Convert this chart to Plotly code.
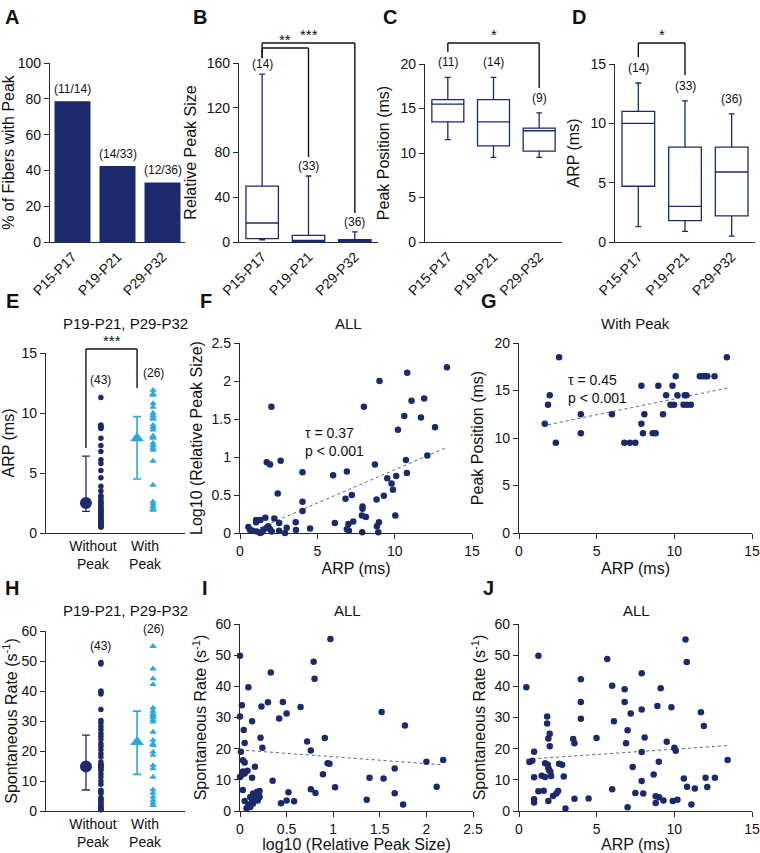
import plotly.graph_objects as go

W, H = 760, 853
NAVY = "#1c2a6b"
CYAN = "#2aa8de"
AX = "#2a2a2a"
FONT = "Arial, Liberation Sans, sans-serif"

# ---------------- data ----------------
ages = ["P15-P17", "P19-P21", "P29-P32"]

# A
pct_with_peak = [78.6, 42.4, 33.3]
pct_labels = ["(11/14)", "(14/33)", "(12/36)"]

# B  relative peak size (box stats)
b_min = [2, 0, 0]
b_q1 = [3, 0.5, 0.4]
b_med = [17, 1.2, 1.0]
b_q3 = [50, 6, 2]
b_max = [150, 59, 9]
b_n = ["(14)", "(33)", "(36)"]

# C  peak position
c_min = [11.5, 9.5, 9.5]
c_q1 = [13.5, 10.8, 10.2]
c_med = [15.5, 13.5, 12.5]
c_q3 = [16.0, 16.0, 12.8]
c_max = [18.5, 18.5, 14.5]
c_n = ["(11)", "(14)", "(9)"]

# D  ARP
d_min = [1.3, 0.9, 0.5]
d_q1 = [4.7, 1.8, 2.2]
d_med = [10.0, 3.0, 5.9]
d_q3 = [11.0, 8.0, 8.0]
d_max = [13.4, 11.9, 10.8]
d_n = ["(14)", "(33)", "(36)"]

# E  ARP without / with peak
e_without = [11.3, 9.0, 8.9, 8.8, 8.7, 7.9, 7.3, 6.8, 6.1, 5.8, 5.2, 4.6, 3.9, 3.5,
             3.1, 3.0, 2.8, 2.6, 2.5, 2.4, 2.2, 2.1, 2.0, 1.9, 1.8, 1.8, 1.7, 1.6,
             1.5, 1.4, 1.3, 1.2, 1.1, 1.0, 1.0, 0.9, 0.8, 0.8, 0.7, 0.6, 0.6, 0.5, 0.5]
e_with = [11.9, 11.6, 11.5, 10.8, 10.5, 10.0, 9.8, 9.6, 9.5, 9.0, 8.8, 8.6, 8.1,
          8.0, 7.9, 7.5, 7.3, 7.1, 6.9, 6.0, 4.0, 2.6, 2.4, 2.2, 2.0, 1.9]
e_without_stat = [2.5, 1.8, 6.4]   # median, low, high
e_with_stat = [7.9, 4.5, 9.7]

# F  ARP vs log10 relative peak size
f_arp = [13.38, 10.81, 9.02, 11.91, 11.09, 2.03, 8.01, 10.62, 11.70, 12.61, 10.21,
         12.11, 10.73, 2.63, 1.73, 1.94, 8.72, 4.04, 10.79, 6.91, 6.02, 10.10, 9.52,
         9.80, 9.89, 2.44, 7.23, 9.30, 6.82, 8.83, 4.04, 4.04, 7.92, 7.92, 7.88, 8.14,
         10.04, 2.22, 1.64, 1.04, 1.32, 1.04, 2.53, 3.60, 6.13, 7.01, 7.32, 8.98, 8.85,
         0.54, 3.02, 4.53, 3.62, 2.53, 0.82, 1.08, 1.40, 1.51, 1.73, 1.83, 1.94, 2.05,
         2.91, 6.91, 7.04, 7.90, 8.94, 1.30, 0.65]
f_log = [2.18, 2.11, 2.00, 1.77, 1.74, 1.66, 1.66, 1.54, 1.52, 1.39, 1.36,
         1.02, 0.96, 0.95, 0.93, 0.90, 0.90, 0.80, 0.79, 0.81, 0.76, 0.75, 0.72,
         0.65, 0.57, 0.52, 0.50, 0.49, 0.45, 0.44, 0.41, 0.29, 0.35, 0.32, 0.23, 0.21,
         0.23, 0.19, 0.20, 0.17, 0.17, 0.14, 0.13, 0.14, 0.13, 0.12, 0.15, 0.14, 0.09,
         0.08, 0.07, 0.06, 0.04, 0.03, 0.03, 0.02, 0.01, 0.04, 0.07, 0.09, 0.05, 0.02,
         0.00, 0.05, 0.03, 0.01, 0.01, 0.00, 0.04]
f_trend_x = [1.3, 13.4]
f_trend_y = [0.07, 1.13]

# G  ARP vs peak position (with peak)
g_arp = [13.38, 2.58, 1.98, 1.87, 1.66, 2.37, 3.98, 3.98, 5.98, 6.78, 7.14, 7.49,
         7.88, 7.88, 7.98, 8.07, 8.61, 8.80, 8.97, 9.27, 9.47, 9.75, 9.88, 9.98,
         10.09, 10.20, 10.59, 10.67, 10.78, 10.82, 11.06, 11.64, 11.81, 11.99, 12.12, 12.59]
g_pos = [18.5, 18.5, 14.5, 13.5, 11.5, 9.5, 12.5, 10.5, 12.5, 9.5, 9.5, 9.5,
         15.5, 11.5, 10.5, 12.5, 10.5, 10.5, 15.5, 12.5, 14.5, 13.5, 15.5, 13.5,
         16.5, 14.5, 13.5, 14.5, 14.5, 13.5, 13.5, 16.5, 16.5, 16.5, 16.5, 16.5]
g_trend_x = [1.87, 13.43]
g_trend_y = [11.4, 15.26]

# H  spontaneous rate without / with peak
h_without = [49.5, 49.0, 40.0, 39.5, 39.0, 33.8, 30.2, 29.3, 28.2, 27.1, 25.8, 24.9,
             23.8, 22.4, 21.6, 20.4, 19.1, 18.0, 16.3, 15.6, 15.2, 15.0, 14.7, 14.0,
             13.6, 12.4, 11.3, 10.0, 8.9, 6.9, 6.5, 5.8, 4.4, 4.0, 3.6, 3.0, 2.4, 2.0,
             1.3, 1.0, 0.8, 0.5, 0.4]
h_with = [54.9, 47.4, 44.1, 42.2, 34.4, 33.3, 32.4, 31.8, 31.3, 30.5, 29.7, 26.3,
          23.6, 22.4, 21.9, 19.7, 18.6, 15.2, 14.1, 11.3, 7.1, 6.0, 4.7, 3.6, 2.7, 1.9]
h_without_stat = [14.8, 7.0, 25.3]
h_with_stat = [23.0, 12.2, 33.3]

# I  log10 relative peak size vs spontaneous rate
i_log = [0.97, 0.00, 0.79, 0.80, 0.33, 0.09, 0.02, 0.00, 0.30, 0.46, 0.23, 0.65,
         0.50, 0.42, 0.13, 1.52, 1.77, 0.04, 0.05, 0.22, 0.24, 0.72, 0.76, 0.91,
         0.01, 0.03, 0.05, 0.16, 0.08, 0.03, 0.02, 0.05, 0.00, 0.13, 0.94, 0.96,
         0.89, 2.00, 2.18, 1.66, 1.39, 1.54, 0.35, 1.02, 2.11, 0.03, 0.76, 0.81,
         0.52, 1.66, 1.36, 1.75, 0.44, 0.50, 0.58, 0.05, 0.14, 0.16, 0.18, 0.20,
         0.21, 0.11, 0.13, 0.09, 0.07, 0.11, 0.14, 0.17, 0.19, 0.21]
i_rate = [55.2, 49.8, 47.9, 42.4, 44.4, 39.7, 33.9, 30.3, 34.9, 35.0, 33.5, 33.4,
          31.3, 29.7, 28.8, 31.8, 27.4, 26.0, 21.8, 23.5, 20.3, 22.3, 19.4, 23.4,
          19.0, 16.3, 15.6, 14.2, 12.9, 12.7, 11.6, 12.0, 10.9, 10.7, 15.3, 15.2,
          11.8, 15.8, 16.4, 13.6, 10.7, 10.4, 9.7, 7.6, 7.8, 6.7, 7.0, 5.8,
          6.0, 5.7, 3.6, 2.1, 2.5, 3.4, 3.1, 3.2, 5.6, 4.7, 6.1, 5.0,
          6.4, 4.5, 3.4, 2.1, 0.9, 1.3, 2.4, 4.0, 3.4, 4.5]
i_trend_x = [0.0, 2.18]
i_trend_y = [19.6, 14.8]

# J  ARP vs spontaneous rate
j_arp = [10.72, 10.80, 1.25, 5.68, 0.47, 3.98, 7.90, 6.00, 6.80, 9.12, 3.98, 6.80,
         8.91, 9.81, 7.90, 7.19, 11.71, 1.81, 3.98, 6.11, 1.81, 11.90, 6.99, 1.98,
         1.89, 3.49, 4.99, 8.09, 9.51, 3.57, 6.89, 1.98, 10.00, 10.09, 7.90, 0.97,
         0.86, 0.67, 13.43, 1.68, 2.58, 2.78, 1.85, 1.89, 7.32, 9.00, 1.94, 2.02,
         1.46, 1.68, 2.07, 0.97, 2.88, 8.67, 10.61, 12.01, 12.61, 7.90, 10.82, 11.32,
         12.12, 6.00, 1.25, 1.59, 2.41, 2.52, 2.19, 7.49, 8.00, 1.89, 0.97, 0.97,
         3.57, 4.48, 8.80, 9.02, 9.30, 8.80, 9.90, 10.20, 11.10, 2.99, 6.99]
j_rate = [55.0, 47.8, 49.8, 48.8, 39.7, 42.3, 44.2, 40.2, 39.1, 39.4, 35.0, 35.0,
          33.7, 33.3, 32.6, 31.3, 31.7, 30.3, 29.6, 28.8, 28.1, 27.3, 25.9, 24.8,
          23.3, 23.1, 23.4, 23.6, 22.2, 21.7, 21.7, 20.8, 20.3, 19.3, 18.9, 19.0,
          16.1, 15.7, 16.4, 15.3, 15.2, 14.8, 14.9, 13.8, 14.1, 15.8, 13.1, 12.6,
          11.3, 10.9, 11.2, 10.8, 11.1, 11.7, 10.4, 10.7, 10.7, 9.6, 7.8, 7.2,
          7.7, 7.0, 6.3, 6.5, 5.6, 6.4, 4.8, 5.8, 5.6, 3.2, 3.8, 2.7,
          3.9, 4.0, 4.7, 4.4, 3.4, 2.6, 3.2, 3.6, 2.1, 0.8, 1.2]
j_trend_x = [0.47, 13.43]
j_trend_y = [16.6, 21.0]

# group positions for E/H strip plots
grp_ticks = [1.35, 2.85]
grp_labels = ["Without<br>Peak", "With<br>Peak"]
pos_mean = [1.15, 2.62]
pos_dots = [1.58, 3.08]

# ---------------- layout helpers ----------------
def xd(a, b):
    return [a / W, b / W]

def yd(top, bottom):
    return [1 - bottom / H, 1 - top / H]

def ax(**kw):
    d = dict(showline=True, linecolor=AX, linewidth=1.4, ticks="outside",
             ticklen=5, tickwidth=1.4, tickcolor=AX, showgrid=False, zeroline=False,
             automargin=False,
             tickfont=dict(size=14, family=FONT, color="#111"),
             title_font=dict(size=16, family=FONT, color="#111"), fixedrange=True)
    d.update(kw)
    return d

panels = {
    1: (xd(50, 185), yd(63, 242)),
    2: (xd(239, 378), yd(63, 242)),
    3: (xd(425, 562), yd(64, 242)),
    4: (xd(615, 755), yd(64, 242)),
    5: (xd(46, 185), yd(353, 533)),
    6: (xd(240, 472), yd(343, 533)),
    7: (xd(519, 752), yd(343, 533)),
    8: (xd(46, 185), yd(631, 811)),
    9: (xd(240, 473), yd(624, 811)),
    10: (xd(519, 752), yd(624, 811)),
}

def xid(i):
    return "x" if i == 1 else f"x{i}"

def yid(i):
    return "y" if i == 1 else f"y{i}"

fig = go.Figure()

# A bars
fig.add_trace(go.Bar(x=ages, y=pct_with_peak, marker_color=NAVY, width=0.8,
                     xaxis="x", yaxis="y"))

# B, C, D boxes
for i, (mn, q1, md, q3, mx) in zip([2, 3, 4], [
        (b_min, b_q1, b_med, b_q3, b_max),
        (c_min, c_q1, c_med, c_q3, c_max),
        (d_min, d_q1, d_med, d_q3, d_max)]):
    fig.add_trace(go.Box(x=ages, q1=q1, median=md, q3=q3, lowerfence=mn, upperfence=mx,
                         fillcolor="white", line=dict(color=NAVY, width=1.3),
                         width=0.7, whiskerwidth=0.18, boxpoints=False,
                         xaxis=xid(i), yaxis=yid(i)))

# E and H strip panels
for i, wo, wi, ws, wis in [(5, e_without, e_with, e_without_stat, e_with_stat),
                           (8, h_without, h_with, h_without_stat, h_with_stat)]:
    fig.add_trace(go.Scatter(x=[pos_dots[0]] * len(wo), y=wo, mode="markers",
                             marker=dict(color=NAVY, size=5.5), cliponaxis=False,
                             xaxis=xid(i), yaxis=yid(i)))
    fig.add_trace(go.Scatter(x=[pos_dots[1]] * len(wi), y=wi, mode="markers",
                             marker=dict(color=CYAN, size=6.5, symbol="triangle-up"),
                             cliponaxis=False, xaxis=xid(i), yaxis=yid(i)))
    fig.add_trace(go.Scatter(x=[pos_mean[0]], y=[ws[0]], mode="markers",
                             marker=dict(color=NAVY, size=12),
                             error_y=dict(type="data", symmetric=False,
                                          array=[ws[2] - ws[0]], arrayminus=[ws[0] - ws[1]],
                                          color=NAVY, thickness=1.3, width=4),
                             xaxis=xid(i), yaxis=yid(i)))
    fig.add_trace(go.Scatter(x=[pos_mean[1]], y=[wis[0]], mode="markers",
                             marker=dict(color=CYAN, size=12, symbol="triangle-up"),
                             error_y=dict(type="data", symmetric=False,
                                          array=[wis[2] - wis[0]], arrayminus=[wis[0] - wis[1]],
                                          color=CYAN, thickness=1.6, width=4),
                             xaxis=xid(i), yaxis=yid(i)))

# scatter panels
for i, xs, ys, tx, ty in [(6, f_arp, f_log, f_trend_x, f_trend_y),
                          (7, g_arp, g_pos, g_trend_x, g_trend_y),
                          (9, i_log, i_rate, i_trend_x, i_trend_y),
                          (10, j_arp, j_rate, j_trend_x, j_trend_y)]:
    fig.add_trace(go.Scatter(x=tx, y=ty, mode="lines",
                             line=dict(color="#5a6288", width=1, dash="dot"),
                             xaxis=xid(i), yaxis=yid(i)))
    fig.add_trace(go.Scatter(x=xs, y=ys, mode="markers",
                             marker=dict(color=NAVY, size=6.5), cliponaxis=False,
                             xaxis=xid(i), yaxis=yid(i)))

# ---------------- axes ----------------
layout = dict(width=W, height=H, margin=dict(l=0, r=0, t=0, b=0, autoexpand=False),
              template="none",
              paper_bgcolor="white", plot_bgcolor="white", showlegend=False,
              font=dict(family=FONT, color="#111"))

cat_x = dict(type="category", range=[-0.5, 2.5], ticks="", tickangle=-45,
             tickfont=dict(size=14, family=FONT, color="#111"))
y_specs = {
    1: dict(range=[0, 100], dtick=20, title_text="% of Fibers with Peak", title_standoff=6),
    2: dict(range=[0, 160], dtick=40, title_text="Relative Peak Size", title_standoff=6),
    3: dict(range=[0, 20], dtick=5, title_text="Peak Position (ms)", title_standoff=6),
    4: dict(range=[0, 15], dtick=5, title_text="ARP (ms)", title_standoff=6),
    5: dict(range=[0, 15], dtick=5, title_text="ARP (ms)", title_standoff=6),
    6: dict(range=[0, 2.5], dtick=0.5, title_text="Log10 (Relative Peak Size)", title_standoff=4),
    7: dict(range=[0, 20], dtick=5, title_text="Peak Position (ms)", title_standoff=6),
    8: dict(range=[0, 60], dtick=10, title_text="Spontaneous Rate (s<sup>-1</sup>)", title_standoff=4),
    9: dict(range=[0, 60], dtick=10, title_text="Spontaneous Rate (s<sup>-1</sup>)", title_standoff=4),
    10: dict(range=[0, 60], dtick=10, title_text="Spontaneous Rate (s<sup>-1</sup>)", title_standoff=4),
}
x_specs = {
    5: dict(range=[0, 4], tickvals=grp_ticks, ticktext=grp_labels, ticks="",
            tickfont=dict(size=14, family=FONT, color="#111")),
    6: dict(range=[0, 15], dtick=5, title_text="ARP (ms)", title_standoff=4),
    7: dict(range=[0, 15], dtick=5, title_text="ARP (ms)", title_standoff=4),
    8: dict(range=[0, 4], tickvals=grp_ticks, ticktext=grp_labels, ticks="",
            tickfont=dict(size=14, family=FONT, color="#111")),
    9: dict(range=[0, 2.5], dtick=0.5, title_text="log10 (Relative Peak Size)", title_standoff=4),
    10: dict(range=[0, 15], dtick=5, title_text="ARP (ms)", title_standoff=4),
}
for i, (xdm, ydm) in panels.items():
    xs = x_specs.get(i, cat_x)
    xkey = "xaxis" if i == 1 else f"xaxis{i}"
    ykey = "yaxis" if i == 1 else f"yaxis{i}"
    layout[xkey] = ax(domain=xdm, anchor=yid(i), **xs)
    layout[ykey] = ax(domain=ydm, anchor=xid(i), **y_specs[i])
    layout[xkey]["title_font"] = dict(size=16, family=FONT, color="#111")

fig.update_layout(**layout)

# ---------------- annotations ----------------
ann = []
def txt(x, y, s, xref="paper", yref="paper", size=12, **kw):
    d = dict(x=x, y=y, text=s, xref=xref, yref=yref, showarrow=False,
             font=dict(size=size, family=FONT, color="#111"))
    d.update(kw)
    ann.append(d)

# panel letters (pixel positions)
for lab, px, py in [("A", 12, 17), ("B", 200, 17), ("C", 390, 17), ("D", 579, 17),
                    ("E", 12, 301), ("F", 206, 301), ("G", 489, 301),
                    ("H", 12, 588), ("I", 205, 588), ("J", 489, 588)]:
    txt(px / W, 1 - py / H, f"<b>{lab}</b>", size=20, xanchor="center", yanchor="middle")

# panel titles
for s, px, py in [("P19-P21, P29-P32", 126, 323), ("ALL", 348, 323), ("With Peak", 635, 323),
                  ("P19-P21, P29-P32", 126, 610), ("ALL", 347, 610), ("ALL", 636, 610)]:
    txt(px / W, 1 - py / H, s, size=15, xanchor="center", yanchor="middle")

# counts
for a, v, s in zip(ages, pct_with_peak, pct_labels):
    txt(a, v, s, xref="x", yref="y", yanchor="bottom", yshift=3)
for i, mx, ns, sh in [(2, b_max, b_n, 1), (3, c_max, c_n, 6), (4, d_max, d_n, 6)]:
    for a, v, s in zip(ages, mx, ns):
        txt(a, v, s, xref=xid(i), yref=yid(i), yanchor="bottom", yshift=sh)
txt(pos_dots[0], max(e_without), "(43)", xref="x5", yref="y5", yanchor="bottom", yshift=8)
txt(pos_dots[1], max(e_with), "(26)", xref="x5", yref="y5", yanchor="bottom", yshift=8)
txt(pos_dots[0], max(h_without), "(43)", xref="x8", yref="y8", yanchor="bottom", yshift=8)
txt(pos_dots[1], max(h_with), "(26)", xref="x8", yref="y8", yanchor="bottom", yshift=8)

# correlation stats
txt(4.1, 1.45, "τ = 0.37<br>p < 0.001", xref="x6", yref="y6", size=14,
    xanchor="left", yanchor="top", align="left")
txt(3.0, 17.2, "τ = 0.45<br>p < 0.001", xref="x7", yref="y7", size=14,
    xanchor="left", yanchor="top", align="left")

# significance brackets (x in axis units, y in pixels)
shapes = []
def bracket(xref, x0, x1, ytop, yl, yr, stars, top_px):
    for xa, xb, ya, yb in [(x0, x1, ytop, ytop), (x0, x0, ytop, yl), (x1, x1, ytop, yr)]:
        shapes.append(dict(type="line", xref=xref, yref="paper", x0=xa, x1=xb,
                           y0=1 - ya / H, y1=1 - yb / H,
                           line=dict(color="#111", width=1.4)))
    txt((x0 + x1) / 2, 1 - top_px / H, stars, xref=xref, size=15,
        xanchor="center", yanchor="bottom", yshift=-4)

bracket("x2", 0, 2, 43, 58, 213, "***", 41)
bracket("x2", 0, 1, 48, 58, 157, "**", 46)
bracket("x3", 0, 2, 43, 52, 88, "*", 41)
bracket("x4", 0, 1, 43, 57, 75, "*", 41)
bracket("x5", pos_mean[0], pos_mean[1], 349, 448, 388, "***", 347)

fig.update_layout(annotations=ann, shapes=shapes)
fig.write_html("out.html", config={"displayModeBar": False},
               post_script="document.body.style.margin='0';document.body.style.overflow='hidden';")
